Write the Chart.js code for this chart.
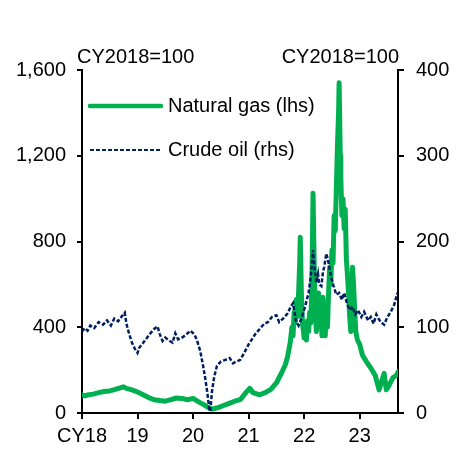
<!DOCTYPE html>
<html>
<head>
<meta charset="utf-8">
<script src="https://cdn.jsdelivr.net/npm/chart.js@4.4.1/dist/chart.umd.min.js"></script>
<style>
  html, body { margin: 0; padding: 0; background: #fff; }
  #wrap { width: 464px; height: 455px; position: relative; }
</style>
</head>
<body>
<div id="wrap"><canvas id="energyChart" width="464" height="455"></canvas></div>
<script>
// x positions in calendar years (18 = start of 2018)
const gasYears = [
  18.00, 18.05, 18.10, 18.20, 18.30, 18.40, 18.50, 18.60, 18.70, 18.75, 18.80, 18.90,
  19.00, 19.10, 19.20, 19.30, 19.40, 19.50, 19.60, 19.70, 19.80, 19.90,
  20.00, 20.10, 20.20, 20.30, 20.35, 20.45, 20.55, 20.65, 20.75, 20.85, 20.95,
  21.02, 21.08, 21.20, 21.30, 21.40, 21.50, 21.60, 21.66, 21.70, 21.75, 21.78,
  21.80, 21.82, 21.84, 21.86, 21.88, 21.90, 21.92, 21.93, 21.95, 21.97, 22.00,
  22.02, 22.04, 22.06, 22.08, 22.10, 22.12, 22.14, 22.16, 22.18, 22.20, 22.22,
  22.24, 22.26, 22.28, 22.30, 22.32, 22.34, 22.36, 22.38, 22.40, 22.42, 22.44,
  22.46, 22.48, 22.50, 22.52, 22.54, 22.56, 22.58, 22.60, 22.62, 22.63, 22.65,
  22.66, 22.68, 22.70, 22.72, 22.74, 22.76, 22.78, 22.80, 22.82, 22.84, 22.86,
  22.87, 22.89, 22.91, 22.93, 22.96, 23.00, 23.05, 23.12, 23.20, 23.28, 23.35,
  23.40, 23.44, 23.48, 23.53, 23.60, 23.66, 23.70
];
const gasValues = [
  85, 80, 84, 88, 95, 100, 103, 110, 118, 122, 115, 108,
  98, 85, 72, 62, 58, 55, 62, 70, 68, 62,
  68, 52, 38, 22, 18, 25, 35, 45, 55, 62, 95,
  115, 95, 85, 95, 110, 140, 190, 225, 260, 330, 400,
  360, 470, 420, 530, 450, 560, 700, 820, 560, 420, 350,
  400, 340, 430, 380, 470, 420, 600, 1025, 700, 480, 380,
  460, 560, 420, 500, 360, 540, 420, 360, 480, 400, 560,
  680, 600, 760, 700, 920, 850, 1050, 1250, 1400, 1540, 1200,
  1100, 920, 1000, 860, 950, 720, 640, 560, 450, 380, 480,
  680, 600, 480, 380, 340, 320, 270, 240, 210, 175, 108,
  150, 185, 108, 130, 165, 175, 195
];

const oilYears = [
  18.00, 18.05, 18.10, 18.15, 18.22, 18.30, 18.38, 18.45, 18.52, 18.58, 18.65,
  18.72, 18.77, 18.80, 18.85, 18.90, 18.95, 19.00, 19.03, 19.08, 19.15, 19.22,
  19.30, 19.36, 19.40, 19.45, 19.50, 19.58, 19.63, 19.68, 19.73, 19.80, 19.87,
  19.95, 20.02, 20.07, 20.13, 20.18, 20.22, 20.26, 20.29, 20.31, 20.34, 20.38,
  20.43, 20.50, 20.58, 20.66, 20.72, 20.78, 20.85, 20.92, 21.00, 21.05, 21.12,
  21.20, 21.28, 21.35, 21.42, 21.50, 21.55, 21.62, 21.70, 21.76, 21.80, 21.85,
  21.90, 21.96, 22.02, 22.08, 22.12, 22.14, 22.16, 22.19, 22.22, 22.25, 22.27,
  22.31, 22.34, 22.36, 22.40, 22.44, 22.48, 22.53, 22.58, 22.63, 22.68, 22.72,
  22.77, 22.82, 22.87, 22.92, 22.97, 23.03, 23.08, 23.15, 23.20, 23.25, 23.30,
  23.34, 23.38, 23.44, 23.50, 23.56, 23.62, 23.68
];
const oilValues = [
  95, 99, 96, 102, 99, 106, 103, 108, 102, 110, 107,
  113, 117, 104, 92, 82, 75, 70, 76, 80, 86, 92,
  98, 101, 92, 84, 88, 84, 82, 93, 86, 88, 91,
  96, 92, 85, 72, 55, 40, 22, 5, 2, 25, 42,
  55, 60, 62, 64, 58, 60, 62, 70, 80, 85, 92,
  98, 104, 106, 112, 114, 106, 110, 116, 124, 128, 108,
  102, 112, 125, 140, 160, 175, 190, 168, 152, 162, 150,
  148, 165, 170, 186, 175, 160, 148, 138, 140, 132, 140,
  128, 120, 124, 115, 120, 112, 118, 108, 112, 104, 115,
  110, 106, 103, 112, 118, 126, 140
];

const yearTicks = [18, 19, 20, 21, 22, 23];
const xTickLabels = ["CY18", "19", "20", "21", "22", "23"];
const leftTicks = [0, 400, 800, 1200, 1600];
const rightTicks = [0, 100, 200, 300, 400];
const seriesNames = ["Natural gas (lhs)", "Crude oil (rhs)"];
const unitLabel = "CY2018=100";

const GREEN = "#00b050";
const NAVY = "#002060";
const FONT = "'Liberation Sans', Arial, sans-serif";

const toPoints = (xs, ys) => xs.map((x, i) => ({ x: x, y: ys[i] }));

// header labels and in-plot legend
const decorations = {
  id: "decorations",
  afterDraw(chart) {
    const { ctx, chartArea } = chart;
    ctx.save();
    ctx.fillStyle = "#000";
    ctx.font = "20px " + FONT;
    ctx.textBaseline = "alphabetic";
    ctx.textAlign = "left";
    ctx.fillText(unitLabel, chartArea.left - 5, chartArea.top - 7);
    ctx.textAlign = "right";
    ctx.fillText(unitLabel, chartArea.right + 1, chartArea.top - 7);

    const lx = chartArea.left + 8;
    const rows = [
      { y: chartArea.top + 36, color: GREEN, width: 4.5, dash: [] },
      { y: chartArea.top + 80, color: NAVY, width: 2, dash: [4, 2] },
    ];
    rows.forEach((r, i) => {
      ctx.beginPath();
      ctx.setLineDash(r.dash);
      ctx.strokeStyle = r.color;
      ctx.lineWidth = r.width;
      ctx.lineCap = r.dash.length ? "butt" : "round";
      ctx.moveTo(lx, r.y);
      ctx.lineTo(lx + 71, r.y);
      ctx.stroke();
      ctx.setLineDash([]);
      ctx.textAlign = "left";
      ctx.textBaseline = "middle";
      ctx.fillText(seriesNames[i], lx + 78, r.y);
    });
    ctx.restore();
  },
};

new Chart(document.getElementById("energyChart"), {
  type: "line",
  data: {
    datasets: [
      {
        label: seriesNames[0],
        data: toPoints(gasYears, gasValues),
        yAxisID: "yLeft",
        borderColor: GREEN,
        borderWidth: 5,
        borderJoinStyle: "round",
        borderCapStyle: "round",
        pointRadius: 0,
        tension: 0,
        order: 1,
      },
      {
        label: seriesNames[1],
        data: toPoints(oilYears, oilValues),
        yAxisID: "yRight",
        borderColor: NAVY,
        borderWidth: 2.5,
        borderDash: [4, 2],
        pointRadius: 0,
        tension: 0,
        order: 0,
      },
    ],
  },
  options: {
    responsive: false,
    animation: false,
    layout: { padding: { top: 70, left: 0, right: 0, bottom: 0 } },
    plugins: {
      legend: { display: false },
      tooltip: { enabled: false },
    },
    scales: {
      x: {
        type: "linear",
        min: 18,
        max: 23.69,
        afterBuildTicks: (scale) => {
          scale.ticks = yearTicks.map((v) => ({ value: v }));
        },
        afterFit: (scale) => { scale.height = 42; },
        ticks: {
          callback: (v, i) => xTickLabels[i],
          color: "#000",
          font: { family: FONT, size: 20 },
          padding: 5,
          maxRotation: 0,
          autoSkip: false,
        },
        grid: { drawOnChartArea: false, tickLength: 6, color: "#000", lineWidth: 2 },
        border: { color: "#000", width: 2 },
      },
      yLeft: {
        position: "left",
        min: 0,
        max: 1600,
        afterBuildTicks: (scale) => {
          scale.ticks = leftTicks.map((v) => ({ value: v }));
        },
        afterFit: (scale) => { scale.width = 82; },
        ticks: {
          color: "#000",
          font: { family: FONT, size: 20 },
          padding: 11,
        },
        grid: { drawOnChartArea: false, tickLength: 5, color: "#000", lineWidth: 2 },
        border: { color: "#000", width: 2 },
      },
      yRight: {
        position: "right",
        min: 0,
        max: 400,
        afterBuildTicks: (scale) => {
          scale.ticks = rightTicks.map((v) => ({ value: v }));
        },
        afterFit: (scale) => { scale.width = 66; },
        ticks: {
          color: "#000",
          font: { family: FONT, size: 20 },
          padding: 12,
        },
        grid: { drawOnChartArea: false, tickLength: 6, color: "#000", lineWidth: 2 },
        border: { color: "#000", width: 2 },
      },
    },
  },
  plugins: [decorations],
});
</script>
</body>
</html>
